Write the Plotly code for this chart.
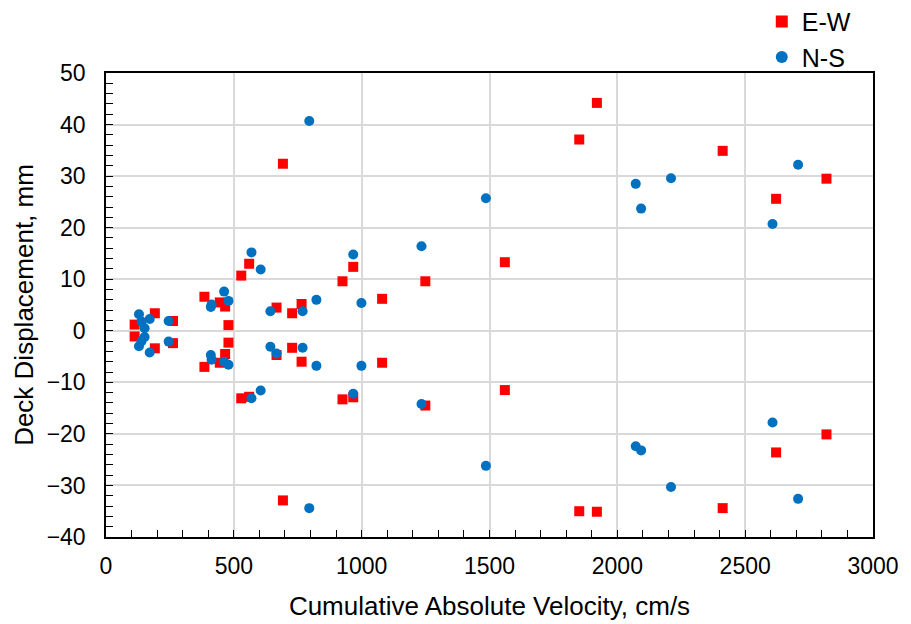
import plotly.graph_objects as go

# E-W direction: cumulative absolute velocity (cm/s) and peak deck displacement (mm)
ew_cav = [112, 112, 191, 191, 262, 262, 385, 385, 445, 445, 466, 466, 479, 479,
          529, 529, 560, 560, 667, 667, 692, 692, 728, 728, 765, 765, 925, 925,
          967, 967, 1080, 1080, 1249, 1249, 1560, 1560, 1851, 1851, 1920, 1920,
          2412, 2412, 2621, 2621, 2818, 2818]
ew_disp = [1.2, -1.1, 3.4, -3.4, 1.9, -2.4, 6.6, -7.0, 5.5, -6.2, 4.7, -4.5, 1.1, -2.3,
           10.7, -13.1, 13.0, -12.8, 4.5, -4.7, 32.4, -32.9, 3.4, -3.3, 5.2, -6.0, 9.6, -13.3,
           12.4, -12.9, 6.2, -6.2, 9.6, -14.5, 13.3, -11.5, 37.1, -35.0, 44.2, -35.1,
           34.9, -34.4, 25.6, -23.6, 29.5, -20.1]

# N-S direction
ns_cav = [129, 129, 139, 139, 151, 151, 171, 171, 245, 245, 410, 410, 413, 413,
          462, 462, 479, 479, 569, 569, 605, 605, 643, 643, 667, 769, 769,
          795, 795, 823, 823, 967, 967, 999, 999, 1234, 1234, 1486, 1486,
          2072, 2072, 2093, 2093, 2210, 2210, 2607, 2607, 2707, 2707]
ns_disp = [3.2, -3.0, 1.8, -2.0, 0.5, -1.2, 2.3, -4.2, 1.9, -2.1, 4.6, -4.7, 5.1, -5.6,
           7.6, -6.0, 5.8, -6.6, 15.2, -13.1, 11.9, -11.6, 3.8, -3.1, -4.4, 3.8, -3.3,
           40.7, -34.4, 6.0, -6.8, 14.8, -12.2, 5.4, -6.8, 16.4, -14.2, 25.7, -26.2,
           28.5, -22.4, 23.7, -23.2, 29.6, -30.3, 20.7, -17.8, 32.2, -32.6]

x_ticks = [0, 500, 1000, 1500, 2000, 2500, 3000]
y_ticks = [-40, -30, -20, -10, 0, 10, 20, 30, 40, 50]

font_family = "Arial, Liberation Sans, sans-serif"

fig = go.Figure()
fig.add_trace(go.Scatter(
    x=ew_cav, y=ew_disp, mode="markers", name="E-W",
    marker=dict(symbol="square", size=10, color="#FF0000"),
))
fig.add_trace(go.Scatter(
    x=ns_cav, y=ns_disp, mode="markers", name="N-S",
    marker=dict(symbol="circle", size=10, color="#0070C0"),
))

axis_common = dict(
    showline=True, linecolor="black", linewidth=1.5, mirror=True,
    showgrid=True, gridcolor="#D9D9D9", gridwidth=1.5,
    zeroline=False,
    ticks="inside", ticklen=7, tickwidth=1.3, tickcolor="black",
    tickfont=dict(family=font_family, size=23, color="black"),
)

fig.update_xaxes(
    range=[0, 3000], tickvals=x_ticks, ticklabelstandoff=8,
    title=dict(text="Cumulative Absolute Velocity, cm/s",
               font=dict(family=font_family, size=26, color="black"), standoff=18),
    minor=dict(dtick=100, ticks="inside", ticklen=7, tickwidth=1.3,
               tickcolor="black", showgrid=False),
    **axis_common,
)
fig.update_yaxes(
    range=[-40, 50], tickvals=y_ticks, ticklabelstandoff=14,
    title=dict(text="Deck Displacement, mm",
               font=dict(family=font_family, size=26, color="black"), standoff=6),
    minor=dict(dtick=2, ticks="inside", ticklen=7, tickwidth=1.3,
               tickcolor="black", showgrid=False),
    **axis_common,
)

fig.update_layout(
    width=911, height=624,
    margin=dict(l=106, r=38, t=73, b=87, autoexpand=False),
    paper_bgcolor="white", plot_bgcolor="white",
    showlegend=True,
    legend=dict(
        x=0.855, xanchor="left", y=1.16, yanchor="top",
        font=dict(family=font_family, size=25, color="black"),
        bgcolor="rgba(0,0,0,0)", itemsizing="constant",
        tracegroupgap=0,
    ),
)

fig.write_html("out.html")
